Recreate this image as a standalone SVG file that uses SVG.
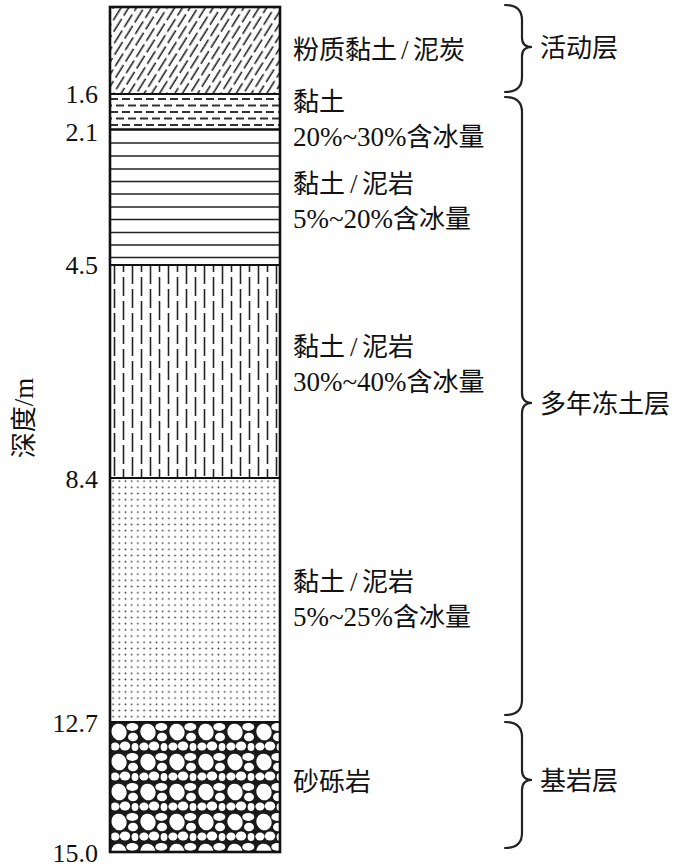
<svg xmlns="http://www.w3.org/2000/svg" width="700" height="867" viewBox="0 0 700 867">
<style>
.t{font-family:"Liberation Serif","Noto Sans CJK SC",serif;font-size:26px;fill:#111}
.l{font-family:"Liberation Serif",serif;font-size:27px}
.n{font-family:"Liberation Serif",serif;font-size:26px;fill:#111;text-anchor:end}
.b{fill:none;stroke:#222;stroke-width:2.2;stroke-linecap:round}
.h{stroke:#222;stroke-width:1.6}
.d{stroke:#333;stroke-width:1.8;stroke-dasharray:8 4}
</style>
<defs>
<pattern id="diag" patternUnits="userSpaceOnUse" width="19" height="13" patternTransform="translate(110 7) rotate(-58)">
<line x1="0" y1="3.25" x2="15" y2="3.25" stroke="#222" stroke-width="1.6"/>
<line x1="9.5" y1="9.75" x2="19" y2="9.75" stroke="#222" stroke-width="1.6"/>
<line x1="0" y1="9.75" x2="5.5" y2="9.75" stroke="#222" stroke-width="1.6"/>
</pattern>
<pattern id="vert" patternUnits="userSpaceOnUse" x="110" y="265" width="18" height="24">
<line x1="4.5" y1="0" x2="4.5" y2="19" stroke="#222" stroke-width="1.6"/>
<line x1="13.5" y1="12" x2="13.5" y2="24" stroke="#222" stroke-width="1.6"/>
<line x1="13.5" y1="0" x2="13.5" y2="7" stroke="#222" stroke-width="1.6"/>
</pattern>
<pattern id="dots" patternUnits="userSpaceOnUse" x="110" y="478" width="6.2" height="6.2">
<circle cx="3.1" cy="3.1" r="0.9" fill="#3a3a3a"/>
</pattern>
<pattern id="gravel" patternUnits="userSpaceOnUse" x="110" y="722" width="29" height="30">
<rect width="29" height="30" fill="#1a1a1a"/>
<g fill="#fff">
<ellipse cx="9" cy="10" rx="7.5" ry="8.4" transform="rotate(-20 9 10)"/>
<ellipse cx="22.3" cy="5" rx="6" ry="3.9"/>
<ellipse cx="23" cy="15" rx="5" ry="4.3"/>
<ellipse cx="5" cy="24.5" rx="4.6" ry="4"/>
<ellipse cx="15" cy="24" rx="5.2" ry="4.5"/>
<ellipse cx="25" cy="25" rx="3.4" ry="4"/>
</g>
</pattern>
</defs>
<g id="layer-peat">
<rect x="110" y="7" width="170" height="87" fill="#fff"/>
<rect x="110" y="7" width="170" height="87" fill="url(#diag)"/>
</g>
<g id="layer-clay">
<rect x="110" y="94" width="170" height="36" fill="#fff"/>
<line class="d" x1="110" y1="99" x2="280" y2="99"/>
<line class="d" x1="110" y1="105.5" x2="280" y2="105.5" stroke-dashoffset="6"/>
<line class="d" x1="110" y1="112" x2="280" y2="112"/>
<line class="d" x1="110" y1="118.5" x2="280" y2="118.5" stroke-dashoffset="6"/>
<line class="d" x1="110" y1="125" x2="280" y2="125"/>
</g>
<g id="layer-mudstone-1">
<rect x="110" y="130" width="170" height="135" fill="#fff"/>
<line class="h" x1="110" y1="143" x2="280" y2="143"/>
<line class="h" x1="110" y1="156" x2="280" y2="156"/>
<line class="h" x1="110" y1="169" x2="280" y2="169"/>
<line class="h" x1="110" y1="181.5" x2="280" y2="181.5"/>
<line class="h" x1="110" y1="194" x2="280" y2="194"/>
<line class="h" x1="110" y1="207" x2="280" y2="207"/>
<line class="h" x1="110" y1="219.5" x2="280" y2="219.5"/>
<line class="h" x1="110" y1="232.5" x2="280" y2="232.5"/>
<line class="h" x1="110" y1="245" x2="280" y2="245"/>
<line class="h" x1="110" y1="257.5" x2="280" y2="257.5"/>
</g>
<g id="layer-mudstone-2">
<rect x="110" y="265" width="170" height="213" fill="#fff"/>
<rect x="110" y="265" width="170" height="213" fill="url(#vert)"/>
</g>
<g id="layer-mudstone-3">
<rect x="110" y="478" width="170" height="244" fill="#fff"/>
<rect x="110" y="478" width="170" height="244" fill="url(#dots)"/>
</g>
<g id="layer-conglomerate">
<rect x="110" y="722" width="170" height="130" fill="url(#gravel)"/>
</g>
<g id="boundaries" stroke="#111" fill="none">
<line x1="110" y1="94" x2="280" y2="94" stroke-width="2.2"/>
<line x1="110" y1="129.5" x2="280" y2="129.5" stroke-width="2.6"/>
<line x1="110" y1="265" x2="280" y2="265" stroke-width="2"/>
<line x1="110" y1="478" x2="280" y2="478" stroke-width="2"/>
<line x1="110" y1="722" x2="280" y2="722" stroke-width="2"/>
<rect x="110" y="7" width="170" height="845" stroke-width="2.6"/>
</g>
<g id="depth-axis">
<text class="n" x="98" y="103">1.6</text>
<text class="n" x="98" y="141">2.1</text>
<text class="n" x="98" y="274">4.5</text>
<text class="n" x="98" y="488">8.4</text>
<text class="n" x="98" y="732">12.7</text>
<text class="n" x="98" y="862">15.0</text>
<text class="t" font-size="25" transform="translate(33 418) rotate(-90)" text-anchor="middle">深度<tspan class="l">/m</tspan></text>
</g>
<g id="layer-labels">
<text class="t" x="293" y="59">粉质黏土<tspan class="l" x="401">/</tspan><tspan x="413">泥炭</tspan></text>
<text class="t" x="293" y="111">黏土</text>
<text class="t" x="293" y="146"><tspan class="l">20%~30%</tspan>含冰量</text>
<text class="t" x="293" y="193">黏土<tspan class="l" x="350">/</tspan><tspan x="362">泥岩</tspan></text>
<text class="t" x="293" y="228"><tspan class="l">5%~20%</tspan>含冰量</text>
<text class="t" x="293" y="356">黏土<tspan class="l" x="350">/</tspan><tspan x="362">泥岩</tspan></text>
<text class="t" x="293" y="391"><tspan class="l">30%~40%</tspan>含冰量</text>
<text class="t" x="293" y="591">黏土<tspan class="l" x="350">/</tspan><tspan x="362">泥岩</tspan></text>
<text class="t" x="293" y="626"><tspan class="l">5%~25%</tspan>含冰量</text>
<text class="t" x="293" y="791">砂砾岩</text>
</g>
<g id="connectors">
<path class="b" d="M505,5 Q522,5 522,20 L522,38 Q522,47 532,47 Q522,47 522,56 L522,77 Q522,92 505,92"/>
<path class="b" d="M505,97 Q522,97 522,112 L522,393 Q522,403 532,403 Q522,403 522,413 L522,700 Q522,715 505,715"/>
<path class="b" d="M505,722 Q522,722 522,737 L522,770 Q522,780 532,780 Q522,780 522,790 L522,833 Q522,848 505,848"/>
</g>
<g id="layer-groups">
<text class="t" x="540" y="57">活动层</text>
<text class="t" x="540" y="413">多年冻土层</text>
<text class="t" x="540" y="790">基岩层</text>
</g>
</svg>
